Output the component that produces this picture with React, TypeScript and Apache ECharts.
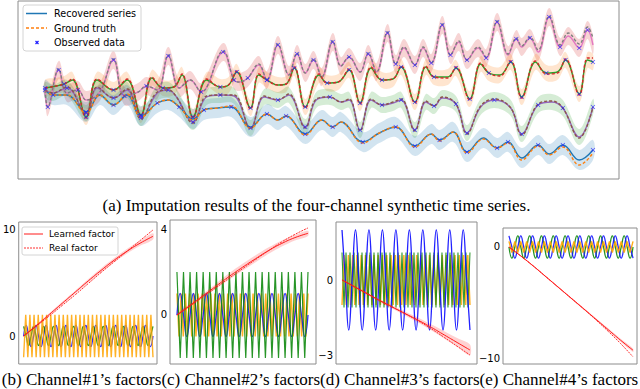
import React, { useEffect, useRef } from "react";
import * as echarts from "echarts";

// ---------------- (a) four-channel series (time step, value) ----------------
const timeA = [0,1,5,8,12,15,20,25,29,34,37,41,45,49,53,57,65,69,71,74,78,81,85,89,92,95,98,101,105,108,111,115,118,121,125,128,131,135,138,141,145,148,151,154,158,161,165,169,172,174,177,180,184,188,191,195,198,200];
const recA = [2.0,0.3,4.0,1.7,2.0, 1.0,1.8,5.0,1.4,1.8, 2.4,2.0,5.4,2.2,3.0, 1.8,5.8,3.0,2.8,3.2, 4.5,3.0,6.5,3.5,5.6, 3.7,5.0,3.3,6.8,4.4, 5.3,3.8,5.6,3.8,7.7, 4.6,6.2,4.5,6.2,4.7, 8.5,5.5,6.8,5.0,6.2, 5.2,8.8,5.5,7.1,6.3, 7.2,5.8,9.3,6.3,7.4, 6.2,8.0,6.5];
const gtA = [2.0,0.3,4.1,1.7,2.0, 1.0,1.8,5.1,1.4,1.8, 2.4,2.0,5.5,2.2,3.0, 1.8,5.9,3.0,2.8,3.2, 4.6,3.0,6.6,3.5,5.7, 3.7,5.1,3.3,6.9,4.4, 5.3,3.8,5.7,3.8,7.8, 4.6,6.3,4.5,6.3,4.7, 8.6,5.5,6.9,5.0,6.3, 5.3,8.9,5.6,7.2,6.4, 7.3,6.0,9.4,6.5,7.7, 6.6,8.3,7.2];
const obsA = [1,2,4,7,8,10,12,15,16,17,19,21,22,24,26,28,30,32,34,35,37,39,40,41,43,45,46,48,50,52,53,55,56];

const timeB = [0,4,7,10,15,19,25,30,35,39,43,47,50,54,59,64,67,70,75,78,81,85,88,91,95,100,103,107,111,115,119,123,127,130,135,139,142,147,150,155,159,162,166,170,174,179,183,187,190,195,198,200];
const recB = [2.2,2.4,2.6,3.0,-0.7, 3.0,2.0,3.0,-0.5,3.2, 2.2,2.3,3.5,-0.7,3.0, 2.3,2.5,3.8,0.2,3.5, 3.0,2.5,2.6,4.2,0.3, 3.5,2.7,2.8,4.0,0.7, 4.2,3.0,3.1,4.3,0.8, 4.3,3.3,3.3,4.2,1.1, 4.6,3.7,3.5,4.8,1.3, 4.8,3.7,3.8,5.0,1.6, 5.0,4.8];
const gtB = [2.2,2.4,2.6,3.1,-0.8, 3.1,2.0,3.1,-0.6,3.3, 2.2,2.3,3.6,-0.8,3.1, 2.3,2.5,3.9,0.1,3.6, 3.0,2.5,2.6,4.3,0.2, 3.6,2.7,2.8,4.1,0.6, 4.3,3.0,3.1,4.4,0.7, 4.4,3.3,3.2,4.3,1.0, 4.7,3.7,3.4,4.9,1.2, 4.9,3.6,3.7,5.1,1.5, 5.2,5.2];
const obsB = [0,2,4,6,8,10,13,15,17,18,20,23,24,26,28,29,31,33,34,36,38,39,41,43,44,46,48,49,51];

const timeC = [0,3,8,15,19,25,30,35,41,45,48,54,59,64,69,75,80,85,89,95,99,104,108,111,115,119,123,127,130,135,139,142,145,150,154,159,164,170,174,180,185,189,195,200];
const recC = [2.0,1.7,2.2,-0.3,2.2, 1.2,2.0,-0.8,1.7,2.0, 1.3,-1.2,1.3,1.5,1.4, -1.8,1.3,1.0,1.5,-1.7, 1.0,1.3,0.8,1.0,-2.0, 1.0,0.5,0.7,1.0,-2.0, 0.8,0.4,1.2,0.6,-2.3, 0.3,1.0,0.2,-2.4,0.5, 0.8,0.2,-2.7,0.3];
const gtC = [2.0,1.7,2.3,-0.4,2.3, 1.2,2.1,-0.9,1.8,2.0, 1.3,-1.3,1.4,1.5,1.5, -1.9,1.4,1.0,1.6,-1.8, 1.1,1.3,0.8,1.1,-2.1, 1.1,0.5,0.8,1.1,-2.1, 0.9,0.4,1.3,0.6,-2.4, 0.4,1.1,0.2,-2.5,0.6, 0.9,0.2,-2.8,0.3];
const obsC = [0,2,3,5,7,9,11,13,15,17,19,21,24,26,28,29,31,33,34,36,38,39,41,43];

const timeD = [0,3,8,15,20,25,30,35,41,45,49,54,58,63,68,75,81,85,88,95,101,105,108,116,122,128,135,141,144,149,154,160,165,169,174,180,184,189,195,200];
const recD = [2.0,1.5,1.5,-0.2,1.5, 0.5,1.5,-0.6,0.7,1.0, 0.3,-0.9,0.0,0.2,0.3, -1.7,-0.4,-1.0,-0.6,-2.4, -1.0,-1.7,-1.2,-3.2,-2.3, -1.7,-3.6,-2.4,-3.0,-2.2, -4.2,-2.8,-3.8,-3.2,-4.8, -3.5,-4.4,-3.5,-5.0,-4.0];
const gtD = [2.0,1.5,1.5,-0.3,1.5, 0.5,1.6,-0.7,0.7,1.0, 0.3,-1.0,0.0,0.2,0.4, -1.8,-0.4,-1.0,-0.6,-2.5, -1.0,-1.7,-1.2,-3.3,-2.3, -1.7,-3.7,-2.4,-3.1,-2.2, -4.3,-2.9,-3.8,-3.3,-5.0, -3.6,-4.5,-3.7,-5.5,-4.3];
const obsD = [1,3,5,7,8,10,12,14,16,18,19,21,23,25,26,28,30,32,33,35,37,39];

const uncA = 0.9, uncB = 0.8, uncC = 0.8, uncD = 1.0;

// ---------------- (b)-(e) factors (evenly spaced over the panel) ----------------
const learnedB = [0,1.0,2.05,3.1,4.15,5.2,6.2,7.15,8.0,8.75,9.4];
const realB = [0,0.95,1.9,2.9,3.9,4.95,6.0,7.0,8.0,9.0,10.0];
const bandB = [0.05,0.1,0.12,0.15,0.15,0.18,0.2,0.2,0.22,0.25,0.3];
const blueB = [0,1,0,-1, 0,1,0,-1, 0,1,0,-1, 0,1,0,-1, 0,1,0,-1, 0,1,0,-1, 0,1,0,-1, 0,1,0,-1, 0,1,0,-1, 0,1,0,-1, 0,1,0,-1, 0,1,0,-1, 0,1,0,-1, 0];
const greenB = [0.9,0,-0.9,0, 0.9,0,-0.9,0, 0.9,0,-0.9,0, 0.9,0,-0.9,0, 0.9,0,-0.9,0, 0.9,0,-0.9,0, 0.9,0,-0.9,0, 0.9,0,-0.9,0, 0.9,0,-0.9,0, 0.9,0,-0.9,0, 0.9,0,-0.9,0, 0.9,0,-0.9,0, 0.9,0,-0.9,0, 0.9];
const yellowB = [-2,2,-2,2,-2,2,-2,2,-2,2, -2,2,-2,2,-2,2,-2,2,-2,2, -2,2,-2,2,-2,2,-2,2,-2,2, -2,2,-2,2,-2,2,-2,2,-2,2, -2,2,-2,2,-2,2,-2,2,-2,2, -2,2,-2,2,-2,2,-2,2,-2,2, -2,2,-2];

const learnedC = [0,0.45,0.9,1.35,1.8,2.22,2.62,3.0,3.33,3.6,3.8];
const realC = [0,0.42,0.85,1.28,1.72,2.15,2.58,3.0,3.4,3.75,4.05];
const bandC = [0.05,0.08,0.1,0.12,0.15,0.16,0.16,0.15,0.14,0.13,0.12];
const blueC = [0,1,0,-1, 0,1,0,-1, 0,1,0,-1, 0,1,0,-1, 0,1,0,-1, 0,1,0,-1, 0,1,0,-1, 0,1,0,-1, 0,1,0,-1, 0,1,0,-1, 0];
const greenC = [2,-2,2,-2,2,-2,2,-2,2,-2, 2,-2,2,-2,2,-2,2,-2,2,-2, 2,-2,2,-2,2,-2,2,-2,2,-2, 2,-2,2,-2,2,-2,2,-2,2,-2, 2];
const yellowC = [1,-1,1,-1,1,-1,1,-1,1,-1, 1,-1,1,-1,1,-1,1,-1,1,-1, 1,-1,1,-1,1,-1,1,-1,1,-1, 1,-1,1,-1,1,-1,1,-1,1,-1, 1,-1,1,-1,1,-1,1,-1,1,-1, 1,-1,1,-1,1,-1,1,-1,1,-1, 1,-1,1];

const learnedD = [0,-0.28,-0.56,-0.84,-1.1,-1.36,-1.62,-1.9,-2.2,-2.5,-2.8];
const realD = [0,-0.27,-0.55,-0.83,-1.1,-1.37,-1.65,-1.96,-2.3,-2.65,-3.0];
const bandD = [0.02,0.04,0.05,0.06,0.07,0.08,0.1,0.12,0.15,0.18,0.22];
const blueD = [2,0,-2,0, 2,0,-2,0, 2,0,-2,0, 2,0,-2,0, 2,0,-2,0, 2,0,-2,0, 2,0,-2,0, 2,0,-2,0, 2,0,-2,0, 2,0,-2];
const greenD = [1.1,-1.1,1.1,-1.1,1.1,-1.1,1.1,-1.1,1.1,-1.1, 1.1,-1.1,1.1,-1.1,1.1,-1.1,1.1,-1.1,1.1,-1.1, 1.1,-1.1,1.1,-1.1,1.1,-1.1,1.1,-1.1,1.1,-1.1, 1.1,-1.1,1.1,-1.1,1.1,-1.1,1.1,-1.1,1.1,-1.1, 1.1,-1.1,1.1,-1.1,1.1,-1.1,1.1,-1.1,1.1,-1.1, 1.1,-1.1,1.1,-1.1,1.1,-1.1,1.1,-1.1,1.1,-1.1, 1.1,-1.1,1.1,-1.1,1.1];
const yellowD = [-1,1,-1,1,-1,1,-1,1,-1,1, -1,1,-1,1,-1,1,-1,1,-1,1, -1,1,-1,1,-1,1,-1,1,-1,1, -1,1,-1,1,-1,1,-1,1,-1,1, -1,1,-1,1,-1,1,-1,1,-1,1, -1,1,-1,1,-1,1,-1,1,-1,1, -1];

const learnedE = [0,-0.85,-1.75,-2.7,-3.65,-4.6,-5.55,-6.5,-7.45,-8.4,-9.3];
const realE = [0,-0.85,-1.75,-2.7,-3.65,-4.6,-5.55,-6.55,-7.6,-8.7,-9.9];
const bandE = [0.05,0.05,0.06,0.06,0.07,0.08,0.09,0.1,0.12,0.14,0.16];
const blueE = [1,0,-1,0, 1,0,-1,0, 1,0,-1,0, 1,0,-1,0, 1,0,-1,0, 1,0,-1,0, 1,0,-1,0, 1,0,-1,0, 1,0,-1,0, 1,0,-1,0, 1,0,-1];
const greenE = [0,-1,0,1, 0,-1,0,1, 0,-1,0,1, 0,-1,0,1, 0,-1,0,1, 0,-1,0,1, 0,-1,0,1, 0,-1,0,1, 0,-1,0,1, 0,-1,0,1, 0,-1,0];
const yellowE = [0.5,-0.5,0.5,-0.5,0.5,-0.5,0.5,-0.5,0.5,-0.5, 0.5,-0.5,0.5,-0.5,0.5,-0.5,0.5,-0.5,0.5,-0.5, 0.5,-0.5,0.5,-0.5,0.5,-0.5,0.5,-0.5,0.5,-0.5, 0.5,-0.5,0.5,-0.5,0.5,-0.5,0.5,-0.5,0.5,-0.5, 0.5,-0.5,0.5];

const tickB = [0, 10];
const tickC = [0, 4];
const tickD = [0, -3];
const tickE = [0, -10];

const SANS = "DejaVu Sans";
const SERIF = "Liberation Serif";
const X_MARK = "path://M0,1L1,0L5,4L9,0L10,1L6,5L10,9L9,10L5,6L1,10L0,9L4,5Z";
const BORDER = "#8c8c8c";
const BLUE = "#1515ff";
const GREEN = "#108a10";
const YELLOW = "#ffa500";
const RED = "#ff1a1a";

// band drawn as one polygon through the axes' scales
function bandSeries(g: number, rows: number[][], color: string, opacity: number, smooth: number, z: number) {
  return {
    type: "custom", coordinateSystem: "cartesian2d", xAxisIndex: g, yAxisIndex: g, silent: true, z,
    data: rows,
    renderItem: (params: any, api: any) => {
      if (params.dataIndex !== 0) return null;
      const up = rows.map((r) => api.coord([r[0], r[2]]));
      const lo = rows.map((r) => api.coord([r[0], r[1]])).reverse();
      return { type: "polygon", shape: { points: up.concat(lo), smooth }, style: { fill: color, opacity } };
    },
  };
}

function channelSeries(t: number[], rec: number[], gt: number[], unc: number, obs: number[], band: string, lineC: string, gtC: string) {
  return [
    bandSeries(0, t.map((x, i) => [x, rec[i] - unc, rec[i] + unc]), band, 0.2, 0.35, 1),
    { type: "line", xAxisIndex: 0, yAxisIndex: 0, data: t.map((x, i) => [x, rec[i]]), smooth: 0.4, symbol: "none", lineStyle: { color: lineC, width: 1.4 }, z: 2, silent: true },
    { type: "line", xAxisIndex: 0, yAxisIndex: 0, data: t.map((x, i) => [x, gt[i]]), smooth: 0.4, symbol: "none", lineStyle: { color: gtC, width: 1.4, type: [3, 2] }, z: 3, silent: true },
    { type: "scatter", xAxisIndex: 0, yAxisIndex: 0, data: obs.map((i) => [t[i], rec[i]]), symbol: X_MARK, symbolSize: 4.5, itemStyle: { color: "#2020ff", opacity: 0.8 }, z: 4, silent: true },
  ];
}

type Wave = { data: number[]; color: string; width: number; smooth: boolean; opacity: number };

function factorSeries(g: number, waves: Wave[], learned: number[], real: number[], band: number[]) {
  const lin = (arr: number[]) => arr.map((v, i) => [i / (arr.length - 1), v]);
  const out: any[] = waves.map((w, k) => ({
    type: "line", xAxisIndex: g, yAxisIndex: g, data: lin(w.data), smooth: w.smooth ? 0.5 : false, symbol: "none",
    lineStyle: { color: w.color, width: w.width, opacity: w.opacity }, z: 2 + k, silent: true,
  }));
  out.push(
    bandSeries(g, learned.map((v, i) => [i / (learned.length - 1), v - band[i], v + band[i]]), "#ff0000", 0.18, 0.3, 8),
    { type: "line", xAxisIndex: g, yAxisIndex: g, data: lin(learned), smooth: true, symbol: "none", lineStyle: { color: RED, width: 1 }, z: 9, silent: true },
    { type: "line", xAxisIndex: g, yAxisIndex: g, data: lin(real), smooth: true, symbol: "none", lineStyle: { color: RED, width: 0.9, type: [2, 1] }, z: 9, silent: true },
  );
  return out;
}

const minus = (v: number) => (v < 0 ? "\u2212" + Math.abs(v) : String(v));

function factorAxes(g: number, xmin: number, xmax: number, ymin: number, ymax: number, ticks: number[]) {
  return {
    x: { type: "value", gridIndex: g, min: xmin, max: xmax, show: false },
    y: {
      type: "value", gridIndex: g, min: ymin, max: ymax,
      axisLine: { show: false }, axisTick: { show: false }, splitLine: { show: false },
      axisLabel: { customValues: ticks, formatter: minus, color: "#000", fontSize: 10, fontFamily: SANS, margin: 3 },
    },
  };
}

export default function App() {
  const ref = useRef<HTMLDivElement>(null);
  useEffect(() => {
    if (!ref.current) return;
    const chart = echarts.init(ref.current, null, { renderer: "svg" });
    const axB = factorAxes(1, -0.038, 1.031, -2.64, 10.75, tickB);
    const axC = factorAxes(2, -0.053, 1.061, -2.28, 4.42, tickC);
    const axD = factorAxes(3, -0.047, 1.055, -3.36, 2.32, tickD);
    const axE = factorAxes(4, -0.048, 1.032, -10.54, 1.71, tickE);
    const gridStyle = { show: true, borderColor: BORDER, borderWidth: 1, backgroundColor: "transparent", containLabel: false };
    const option: any = {
      animation: false,
      backgroundColor: "#fff",
      grid: [
        { ...gridStyle, left: 18, top: 1, width: 601, height: 178 },
        { ...gridStyle, left: 17, top: 222, width: 140, height: 142 },
        { ...gridStyle, left: 170, top: 220, width: 146, height: 144 },
        { ...gridStyle, left: 336, top: 222, width: 141, height: 142 },
        { ...gridStyle, left: 503, top: 228, width: 134, height: 136 },
      ],
      xAxis: [
        { type: "value", gridIndex: 0, min: -9.86, max: 209.5, show: false },
        axB.x, axC.x, axD.x, axE.x,
      ],
      yAxis: [
        { type: "value", gridIndex: 0, min: -6.9, max: 10.9, show: false },
        axB.y, axC.y, axD.y, axE.y,
      ],
      series: [
        ...channelSeries(timeA, recA, gtA, uncA, obsA, "#d62728", "#e377c2", "#7f7f7f"),
        ...channelSeries(timeB, recB, gtB, uncB, obsB, "#ff7f0e", "#2ca02c", "#d62728"),
        ...channelSeries(timeC, recC, gtC, uncC, obsC, "#2ca02c", "#9467bd", "#8c564b"),
        ...channelSeries(timeD, recD, gtD, uncD, obsD, "#1f77b4", "#1f77b4", "#ff7f0e"),
        ...factorSeries(1, [
          { data: blueB, color: BLUE, width: 1.3, smooth: true, opacity: 0.9 },
          { data: greenB, color: GREEN, width: 1.3, smooth: true, opacity: 0.9 },
          { data: yellowB, color: YELLOW, width: 1.4, smooth: false, opacity: 0.85 },
        ], learnedB, realB, bandB),
        ...factorSeries(2, [
          { data: yellowC, color: YELLOW, width: 1.5, smooth: false, opacity: 0.85 },
          { data: blueC, color: BLUE, width: 1.3, smooth: true, opacity: 0.9 },
          { data: greenC, color: GREEN, width: 1.2, smooth: false, opacity: 0.9 },
        ], learnedC, realC, bandC),
        ...factorSeries(3, [
          { data: yellowD, color: YELLOW, width: 1.5, smooth: false, opacity: 0.85 },
          { data: greenD, color: GREEN, width: 1.1, smooth: false, opacity: 0.85 },
          { data: blueD, color: BLUE, width: 1.3, smooth: true, opacity: 0.95 },
        ], learnedD, realD, bandD),
        ...factorSeries(4, [
          { data: greenE, color: GREEN, width: 1.3, smooth: true, opacity: 0.9 },
          { data: blueE, color: BLUE, width: 1.3, smooth: true, opacity: 0.9 },
          { data: yellowE, color: YELLOW, width: 1.4, smooth: false, opacity: 0.9 },
        ], learnedE, realE, bandE),
      ],
      graphic: [
        // legend of panel (a)
        { type: "rect", z: 100, shape: { x: 23, y: 5, width: 118, height: 46, r: 3 }, style: { fill: "rgba(255,255,255,0.85)", stroke: "#d4d4d4", lineWidth: 1 } },
        { type: "line", z: 101, shape: { x1: 26, y1: 13.5, x2: 47, y2: 13.5 }, style: { stroke: "#1f77b4", lineWidth: 1.5 } },
        { type: "line", z: 101, shape: { x1: 26, y1: 28, x2: 47, y2: 28 }, style: { stroke: "#ff7f0e", lineWidth: 1.5, lineDash: [3, 2] } },
        { type: "line", z: 101, shape: { x1: 35.5, y1: 41, x2: 38.5, y2: 44 }, style: { stroke: "#2020ff", lineWidth: 1.3 } },
        { type: "line", z: 101, shape: { x1: 38.5, y1: 41, x2: 35.5, y2: 44 }, style: { stroke: "#2020ff", lineWidth: 1.3 } },
        { type: "text", z: 101, x: 54, y: 13.5, style: { text: "Recovered series", fill: "#000", fontSize: 9.6, fontFamily: SANS, verticalAlign: "middle" } },
        { type: "text", z: 101, x: 54, y: 28, style: { text: "Ground truth", fill: "#000", fontSize: 9.6, fontFamily: SANS, verticalAlign: "middle" } },
        { type: "text", z: 101, x: 54, y: 42.5, style: { text: "Observed data", fill: "#000", fontSize: 9.6, fontFamily: SANS, verticalAlign: "middle" } },
        // legend of panel (b)
        { type: "rect", z: 100, shape: { x: 22, y: 227, width: 96, height: 28, r: 2 }, style: { fill: "rgba(255,255,255,0.85)", stroke: "#d4d4d4", lineWidth: 1 } },
        { type: "line", z: 101, shape: { x1: 24, y1: 234, x2: 43, y2: 234 }, style: { stroke: RED, lineWidth: 1 } },
        { type: "line", z: 101, shape: { x1: 24, y1: 248, x2: 43, y2: 248 }, style: { stroke: RED, lineWidth: 0.9, lineDash: [2, 1] } },
        { type: "text", z: 101, x: 49, y: 234, style: { text: "Learned factor", fill: "#000", fontSize: 9, fontFamily: SANS, verticalAlign: "middle" } },
        { type: "text", z: 101, x: 49, y: 248, style: { text: "Real factor", fill: "#000", fontSize: 9, fontFamily: SANS, verticalAlign: "middle" } },
        // captions
        { type: "text", z: 101, x: 316.5, y: 205, style: { text: "(a) Imputation results of the four-channel synthetic time series.", fill: "#000", fontSize: 17, fontFamily: SERIF, align: "center", verticalAlign: "middle" } },
        { type: "text", z: 101, x: 320, y: 379, style: { text: "(b) Channel#1\u2019s factors(c) Channel#2\u2019s factors(d) Channel#3\u2019s factors(e) Channel#4\u2019s factors", fill: "#000", fontSize: 17, fontFamily: SERIF, align: "center", verticalAlign: "middle" } },
      ],
    };
    chart.setOption(option);
    return () => chart.dispose();
  }, []);
  return <div ref={ref} style={{ position: "fixed", left: 0, top: 0, width: 640, height: 389, background: "#fff" }} />;
}
